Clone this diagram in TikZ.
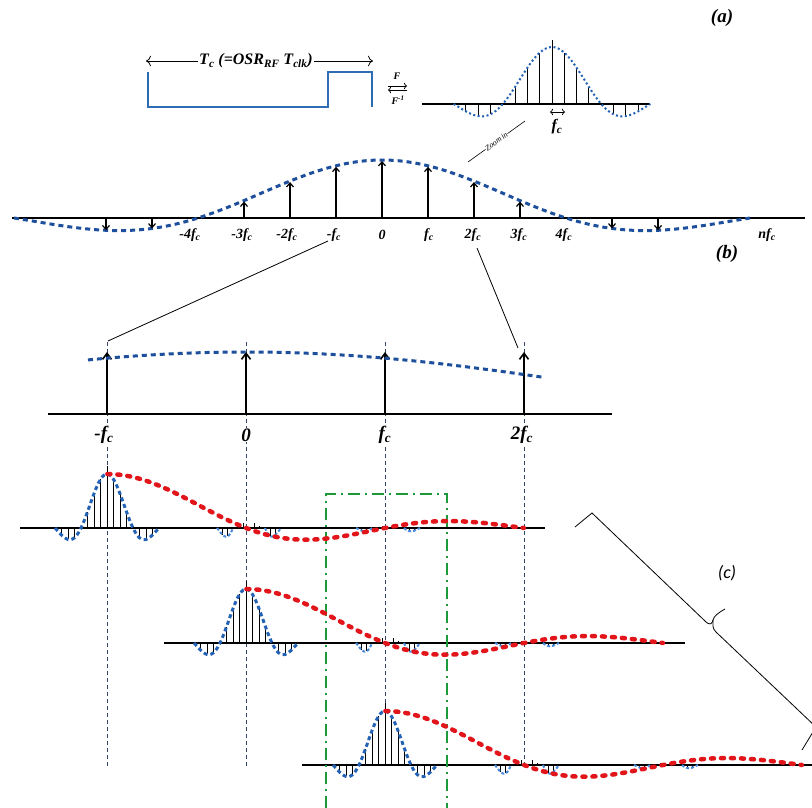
\documentclass[tikz,border=0pt]{standalone}
\usepackage{amsmath,amssymb}
\usepackage{fontspec}
\setmainfont{Liberation Serif}
\newfontfamily\calibfont{Carlito}
\usetikzlibrary{arrows.meta}
\definecolor{bdot}{HTML}{1D4F9C}
\definecolor{bsmall}{HTML}{2462B5}
\definecolor{blight}{HTML}{4A8ADA}
\definecolor{rdot}{HTML}{E2151B}
\definecolor{gdash}{HTML}{1C9A3A}
\definecolor{vdash}{HTML}{34456A}
\definecolor{pulseblue}{HTML}{2E6DB4}
\newcommand{\fcl}{f\textsubscript{c}}
\newcommand{\mainsinc}[2]{%
  \foreach \k in {-7,-6,-5,-3,-2,-1,1,2,3,5,6,7}{
    \draw[stemthin] ({#1+6.5*\k},#2) -- ({#1+6.5*\k},{#2-54*sinc(\k/4)});
  }
  \draw[stemthin] (#1,#2) -- (#1,{#2-62});
  \draw[bluesmall] plot[domain=-2:2,samples=60] ({#1+26*\x},{#2-54*sinc(\x)});
}
\newcommand{\minipat}[3]{%
  \foreach \k in {-5,-4,4,5}{
    \draw[stemthin] ({#1+3+5.33*\k},#2) -- ({#1+3+5.33*\k},{#2-#3*sinc(\k/3)});
  }
  \foreach \k in {-1,1,2}{
    \draw[stemthin] ({#1+3+5.33*\k},#2) -- ({#1+3+5.33*\k},{#2-0.15*#3*sinc(\k/3)});
  }
  \draw[bluemini] plot[domain=-2:-1,samples=15] ({#1+3+16*\x},{#2-#3*sinc(\x)});
  \draw[bluemini] plot[domain=1:2,samples=15] ({#1+3+16*\x},{#2-#3*sinc(\x)});
}
\newcommand{\redenv}[2]{%
  \draw[reddot] plot[domain=0.003:3,samples=70] ({#1+139*\x},{#2-54*sinc(\x)});
}
\begin{document}
\begin{tikzpicture}[x=1pt,y=-1pt,
  declare function={sinc(\u)=sin(180*\u)/(pi*\u);},
  lbl/.style={font=\fontsize{14}{14}\selectfont\bfseries\itshape, inner sep=1pt},
  biglbl/.style={font=\fontsize{19}{19}\selectfont\bfseries\itshape, inner sep=1pt, fill=white},
  panel/.style={font=\fontsize{19}{19}\selectfont\bfseries\itshape, inner sep=1pt},
  axisline/.style={line width=1.5pt, black},
  stemthin/.style={line width=0.9pt, black},
  bstem/.style={line width=1.6pt, black, -{Straight Barb[length=4pt,width=7pt,line width=1.2pt]}},
  zstem/.style={line width=2pt, black, -{Straight Barb[length=6pt,width=9pt,line width=1.6pt]}},
  bigdot/.style={bdot, line width=3pt, dash pattern=on 5pt off 4pt},
  topdot/.style={bsmall, line width=2pt, dash pattern=on 2pt off 2.5pt},
  bluesmall/.style={bsmall, line width=3pt, dash pattern=on 4pt off 3pt},
  bluemini/.style={blight, line width=2pt, dash pattern=on 3pt off 2pt},
  reddot/.style={rdot, line width=4.5pt, line cap=round, dash pattern=on 3pt off 7pt},
  vdl/.style={vdash, line width=1pt, dash pattern=on 4pt off 3pt},
  greendd/.style={gdash, line width=2pt, dash pattern=on 12pt off 5pt on 2pt off 5pt},
  pulse/.style={pulseblue, line width=1.3pt},
  flbl/.style={font=\fontsize{10}{10}\selectfont\bfseries\itshape, inner sep=0pt}
]
\clip (0,0) rectangle (812,808);
\fill[white] (0,0) rectangle (812,808);

% ---------- (a) ----------
\node[panel] (la) at (722,18) {(a)};
\draw[pulse] (148,72) -- (148,107) -- (328,107) -- (328,72) -- (372,72) -- (372,107);
\node[font=\fontsize{16}{16}\selectfont\bfseries\itshape, inner sep=1pt] (tc) at (256,61)
  {T\textsubscript{c} (=OSR\textsubscript{RF} T\textsubscript{clk})};
\coordinate (tl) at (146,61);
\coordinate (tr) at (373,61);
\draw[-{To[length=5pt]}, line width=0.8pt] (tc.west) -- (tl);
\draw[-{To[length=5pt]}, line width=0.8pt] (tc.east) -- (tr);
\node[flbl] (fF) at (397,76) {F};
\node[flbl] (fFi) at (398,100) {F\textsuperscript{-1}};
\coordinate (fa1) at (388,86);
\coordinate (fa2) at (407,86);
\coordinate (fb1) at (407,90);
\coordinate (fb2) at (388,90);
\draw[-{To[length=3pt]}, line width=0.7pt] (fa1) -- (fa2);
\draw[-{To[length=3pt]}, line width=0.7pt] (fb1) -- (fb2);

\draw[axisline, line width=1.3pt] (422,104) -- (650,104);
\foreach \k in {-7,-6,-5,-3,-2,-1,1,2,3,5,6,7}{
  \draw[stemthin] ({552+12.3*\k},104) -- ({552+12.3*\k},{104-57*sinc(\k/4)});
}
\draw[stemthin] (552,104) -- (552,40);
\draw[topdot] plot[domain=-2:2,samples=80] ({552+49.2*\x},{104-57*sinc(\x)});
\node[font=\fontsize{16}{16}\selectfont\bfseries\itshape, inner sep=1pt] (fca) at (557,127) {\fcl};
\draw[{To[length=3pt]}-{To[length=3pt]}, line width=0.7pt] (550,112) -- (565,112);

\coordinate (z1) at (468,162);
\coordinate (z2) at (525,121);
\draw[line width=0.6pt] (z1) -- node[sloped, fill=white, inner sep=0.6pt, font=\fontsize{8}{8}\selectfont\itshape] (zin) {Zoom\,in} (z2);

% ---------- (b) ----------
\draw[axisline] (12,218) -- (805,218);
\draw[bigdot] plot[domain=-8:8,samples=160] ({382+46*\x},{218-58*sinc(\x/4)});
\foreach \k in {-3,-2,-1,1,2,3}{
  \draw[bstem] ({382+46*\k},218) -- ({382+46*\k},{218-58*sinc(\k/4)+1});
}
\draw[bstem] (382,218) -- (382,161);
\foreach \k in {-6,-5,5,6}{
  \draw[bstem, line width=1.2pt] ({382+46*\k},218) -- ({382+46*\k},{218-58*sinc(\k/4)});
}
\node[lbl] (lm4) at (190,235) {-4\fcl};
\node[lbl] (lm3) at (242,235) {-3\fcl};
\node[lbl] (lm2) at (287,235) {-2\fcl};
\node[lbl] (lm1) at (334,235) {-\fcl};
\node[lbl] (l0) at (382,235) {0};
\node[lbl] (l1) at (429,235) {\fcl};
\node[lbl] (l2) at (473,235) {2\fcl};
\node[lbl] (l3) at (519,235) {3\fcl};
\node[lbl] (l4) at (564,235) {4\fcl};
\node[lbl] (ln) at (767,235) {nf\textsubscript{c}};
\node[panel] (lb) at (727,254) {(b)};

\coordinate (c1a) at (328,241);
\coordinate (c1b) at (108,341);
\coordinate (c2a) at (477,248);
\coordinate (c2b) at (518,348);
\draw[line width=0.8pt] (c1a) -- (c1b);
\draw[line width=0.8pt] (c2a) -- (c2b);

% ---------- vertical dashed guides ----------
\foreach \xx in {107,246,385,524}{
  \draw[vdl] (\xx,342) -- (\xx,767);
}

% ---------- zoomed section ----------
\draw[axisline] (48,414) -- (612,414);
\node[biglbl] (zm1) at (104,435) {-\fcl};
\node[biglbl] (z0) at (246,435) {0};
\node[biglbl] (zp1) at (385,435) {\fcl};
\node[biglbl] (zp2) at (522,435) {2\fcl};
\foreach \xx in {107,246,385,524}{
  \draw[zstem] (\xx,414) -- (\xx,352);
}
\draw[bigdot] plot[domain=-1.137:2.151,samples=60] ({246+139*\x},{414-62*sinc(\x/4)});

% ---------- (c) rows ----------
\draw[axisline, line width=2pt] (20,528) -- (545,528);
\draw[axisline, line width=2pt] (164,643) -- (685,643);
\draw[axisline, line width=2pt] (302,765) -- (812,765);

\mainsinc{107}{528}
\minipat{246}{528}{40}
\minipat{385}{528}{15}
\mainsinc{246}{643}
\minipat{385}{643}{40}
\minipat{524}{643}{15}
\mainsinc{385}{765}
\minipat{524}{765}{40}
\minipat{663}{765}{15}

\draw[greendd] (326,808) -- (326,494) -- (447,494) -- (447,808);

\redenv{107}{528}
\redenv{246}{643}
\redenv{385}{765}

% ---------- brace (c) ----------
\draw[line width=0.8pt] (575,527) -- (592,513) -- (705,621)
  .. controls (710,626) and (712,624) .. (713,620)
  .. controls (714,616) and (718,613) .. (725,609);
\draw[line width=0.8pt] (713,620) .. controls (713,625) and (712,628) .. (716,632)
  -- (816,727) -- (802,750);
\node[font=\fontsize{18}{18}\selectfont\calibfont\itshape] (lc) at (727,573) {(c)};
\end{tikzpicture}
\end{document}
